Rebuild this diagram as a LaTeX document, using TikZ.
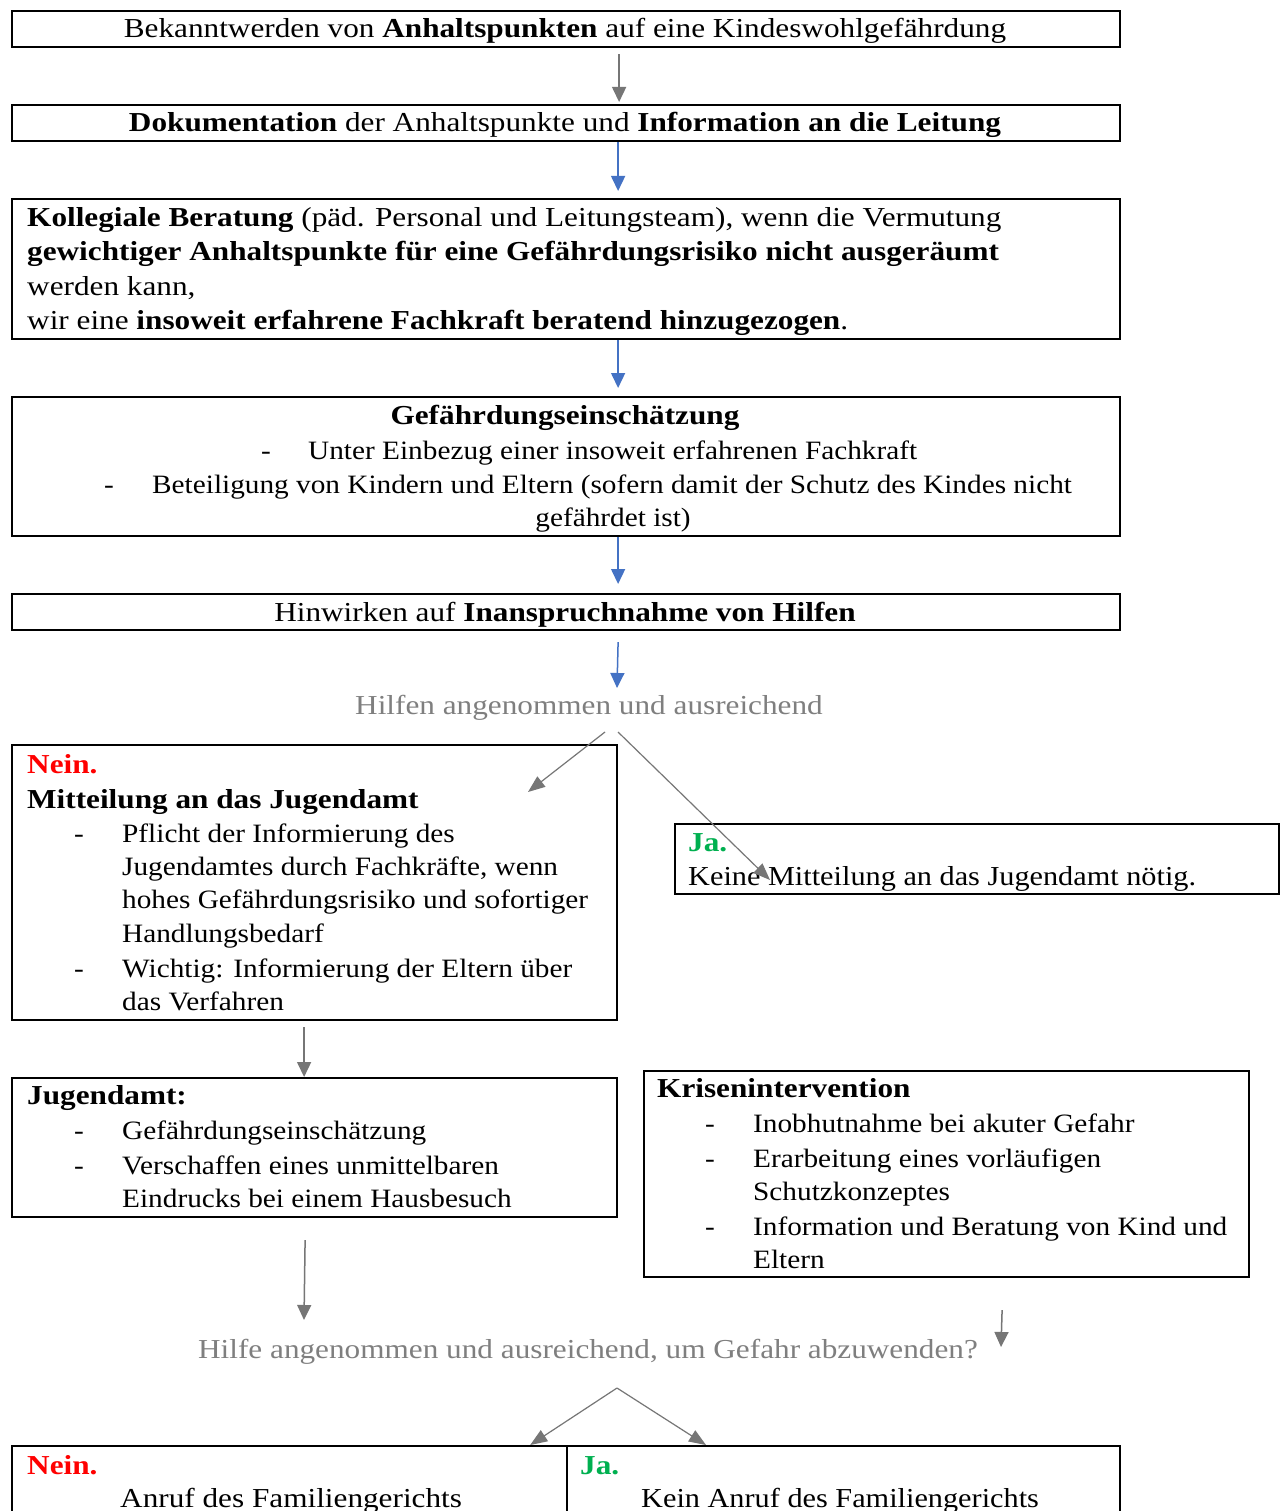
\documentclass[tikz,border=0pt]{standalone}
\usepackage{fontspec}
\setmainfont{Liberation Serif}[FakeStretch=1.14]
\newfontfamily\listfont{Liberation Serif}[FakeStretch=1.105]
\usetikzlibrary{arrows.meta}
\definecolor{arrblue}{HTML}{4472C4}
\definecolor{arrgray}{HTML}{767676}
\definecolor{qgray}{HTML}{7F7F7F}
\definecolor{neinred}{HTML}{FF0000}
\definecolor{jagreen}{HTML}{00B050}
\tikzset{
  box/.style={draw=black, line width=2.2pt, inner sep=0pt, anchor=north west},
  tc/.style={inner sep=0pt, anchor=base, font=\fontsize{27.4}{34}\selectfont},
  tl/.style={inner sep=0pt, anchor=base west, font=\fontsize{27.4}{34}\selectfont},
  tn/.style={inner sep=0pt, anchor=base west, font=\listfont\fontsize{27.4}{34}\selectfont},
  li/.style={inner sep=0pt, anchor=base west, font=\listfont\fontsize{26.5}{33}\selectfont},
  lc/.style={inner sep=0pt, anchor=base, font=\listfont\fontsize{26.5}{33}\selectfont},
  qtext/.style={tc, text=qgray},
  garrow/.style={draw=arrgray, line width=1.5pt, -{Triangle[width=14pt,length=15pt]}},
  barrow/.style={draw=arrblue, line width=1.5pt, -{Triangle[width=14pt,length=15pt]}},
  darrow/.style={draw=arrgray, line width=1.2pt, -{Triangle[width=13pt,length=17pt]}},
}
\begin{document}
\begin{tikzpicture}[x=1pt,y=-1pt]
\useasboundingbox (0,0) rectangle (1283,1511);
\clip (0,0) rectangle (1283,1511);
\fill[white] (0,0) rectangle (1283,1511);
% boxes
\node[box, minimum width=1108pt, minimum height=36pt] (b1) at (11,10) {};
\node[box, minimum width=1108pt, minimum height=36pt] (b2) at (11,104) {};
\node[box, minimum width=1108pt, minimum height=140pt] (b3) at (11,198) {};
\node[box, minimum width=1108pt, minimum height=139pt] (b4) at (11,396) {};
\node[box, minimum width=1108pt, minimum height=36pt] (b5) at (11,593) {};
\node[box, minimum width=605pt, minimum height=275pt] (b6) at (11,744) {};
\node[box, minimum width=604pt, minimum height=70pt] (b7) at (674,823) {};
\node[box, minimum width=605pt, minimum height=139pt] (b8) at (11,1077) {};
\node[box, minimum width=605pt, minimum height=206pt] (b9) at (643,1070) {};
\node[box, minimum width=555pt, minimum height=100pt] (b10) at (11,1445) {};
\node[box, minimum width=553pt, minimum height=100pt] (b11) at (566,1445) {};
% texts
\node[tc] (t1) at (565,38) {Bekanntwerden von \textbf{Anhaltspunkten} auf eine Kindeswohlgefährdung};
\node[tc] (t2) at (565,132) {\textbf{Dokumentation} der Anhaltspunkte und \textbf{Information an die Leitung}};
\node[tl] (t3a) at (27,227) {\textbf{Kollegiale Beratung} (päd. Personal und Leitungsteam), wenn die Vermutung};
\node[tl] (t3b) at (27,261) {\textbf{gewichtiger Anhaltspunkte für eine Gefährdungsrisiko nicht ausgeräumt}};
\node[tl] (t3c) at (27,295) {werden kann,};
\node[tl] (t3d) at (27,329) {wir eine \textbf{insoweit erfahrene Fachkraft beratend hinzugezogen}.};
\node[tc] (t4a) at (565,424) {\textbf{Gefährdungseinschätzung}};
\node[li] (t4d1) at (261,459) {-};
\node[li] (t4b) at (308,459) {Unter Einbezug einer insoweit erfahrenen Fachkraft};
\node[li] (t4d2) at (104,493) {-};
\node[li] (t4c) at (152,493) {Beteiligung von Kindern und Eltern (sofern damit der Schutz des Kindes nicht};
\node[lc] (t4e) at (613,526) {gefährdet ist)};
\node[tc] (t5) at (565,621) {Hinwirken auf \textbf{Inanspruchnahme von Hilfen}};
\node[qtext] (q1) at (589,714) {Hilfen angenommen und ausreichend};
% Nein box
\node[tl, text=neinred] (t6a) at (27,773) {\textbf{Nein.}};
\node[tl] (t6b) at (27,808) {\textbf{Mitteilung an das Jugendamt}};
\node[li] (t6d1) at (74,842) {-};
\node[li] (t6c) at (122,842) {Pflicht der Informierung des};
\node[li] (t6e) at (122,875) {Jugendamtes durch Fachkräfte, wenn};
\node[li] (t6f) at (122,908) {hohes Gefährdungsrisiko und sofortiger};
\node[li] (t6g) at (122,942) {Handlungsbedarf};
\node[li] (t6d2) at (74,977) {-};
\node[li] (t6h) at (122,977) {Wichtig: Informierung der Eltern über};
\node[li] (t6i) at (122,1010) {das Verfahren};
% Ja box
\node[tl, text=jagreen] (t7a) at (688,851) {\textbf{Ja.}};
\node[tn] (t7b) at (688,885) {Keine Mitteilung an das Jugendamt nötig.};
% Jugendamt box
\node[tl] (t8a) at (27,1104) {\textbf{Jugendamt:}};
\node[li] (t8d1) at (74,1139) {-};
\node[li] (t8b) at (122,1139) {Gefährdungseinschätzung};
\node[li] (t8d2) at (74,1174) {-};
\node[li] (t8c) at (122,1174) {Verschaffen eines unmittelbaren};
\node[li] (t8e) at (122,1207) {Eindrucks bei einem Hausbesuch};
% Krisenintervention
\node[tl] (t9a) at (657,1097) {\textbf{Krisenintervention}};
\node[li] (t9d1) at (705,1132) {-};
\node[li] (t9b) at (753,1132) {Inobhutnahme bei akuter Gefahr};
\node[li] (t9d2) at (705,1167) {-};
\node[li] (t9c) at (753,1167) {Erarbeitung eines vorläufigen};
\node[li] (t9e) at (753,1200) {Schutzkonzeptes};
\node[li] (t9d3) at (705,1235) {-};
\node[li] (t9f) at (753,1235) {Information und Beratung von Kind und};
\node[li] (t9g) at (753,1268) {Eltern};
% question 2
\node[qtext] (q2) at (588,1358) {Hilfe angenommen und ausreichend, um Gefahr abzuwenden?};
% bottom boxes
\node[tl, text=neinred] (t10a) at (27,1474) {\textbf{Nein.}};
\node[tl] (t10b) at (120,1507) {Anruf des Familiengerichts};
\node[tl, text=jagreen] (t11a) at (580,1474) {\textbf{Ja.}};
\node[tn] (t11b) at (641,1507) {Kein Anruf des Familiengerichts};
% helper coordinates
\coordinate (q1l) at (605,732);
\coordinate (q1r) at (618,732);
\coordinate (e6) at (528,792);
\coordinate (e7) at (770,880);
\coordinate (q2s) at (617,1388);
% connectors
\draw[garrow] ([xshift=53pt,yshift=-6pt]b1.south) -- ([xshift=53pt,yshift=2pt]b2.north);
\draw[barrow] ([xshift=52pt]b2.south) -- ([xshift=52pt,yshift=7pt]b3.north);
\draw[barrow] ([xshift=52pt]b3.south) -- ([xshift=52pt,yshift=8pt]b4.north);
\draw[barrow] ([xshift=52pt]b4.south) -- ([xshift=52pt,yshift=9pt]b5.north);
\draw[barrow] ([xshift=52pt,yshift=-11pt]b5.south) -- ([xshift=28pt,yshift=26pt]q1.base);
\draw[darrow] (q1l) -- (e6);
\draw[darrow] (q1r) -- (e7);
\draw[garrow] ([xshift=-10.5pt,yshift=-6pt]b6.south) -- ([xshift=-10.5pt]b8.north);
\draw[garrow] ([xshift=-9.5pt,yshift=-22pt]b8.south) -- ([xshift=-284pt,yshift=38pt]q2.base);
\draw[garrow] ([xshift=55.5pt,yshift=-32pt]b9.south) -- ([xshift=413pt,yshift=11pt]q2.base);
\draw[darrow] (q2s) -- ([xshift=-38pt]b10.north east);
\draw[darrow] (q2s) -- ([xshift=140pt]b11.north west);
\end{tikzpicture}
\end{document}
